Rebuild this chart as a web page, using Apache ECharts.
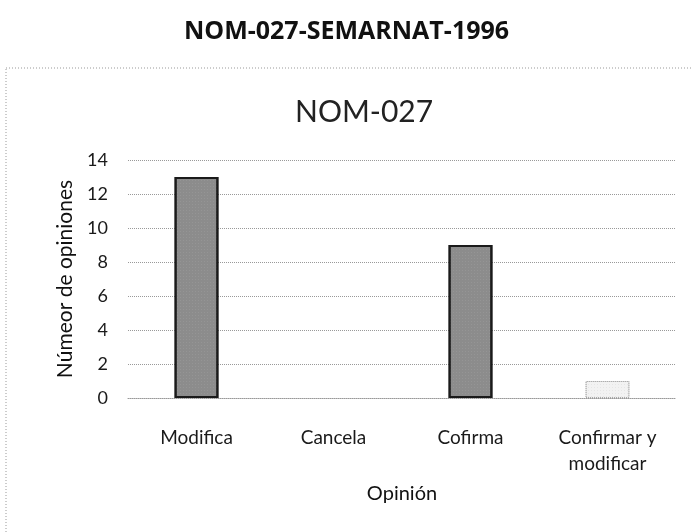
<!DOCTYPE html>
<html>
<head>
<meta charset="utf-8">
<script src="https://cdn.jsdelivr.net/npm/echarts@6/dist/echarts.min.js"></script>
<style>
  html, body { margin: 0; padding: 0; background: #fff; }
  #chart { width: 693px; height: 532px; }
</style>
</head>
<body>
<div id="chart"></div>
<script>
// datos de la gráfica
const categorias = ['Modifica', 'Cancela', 'Cofirma', 'Confirmar y\nmodificar']
const opiniones = [13, 0, 9, 1]
const yTicks = { min: 0, max: 14, interval: 2 }

const chart = echarts.init(document.getElementById('chart'))

const punteado = (c) => ({
  symbol: 'rect',
  symbolSize: 0.5,
  dashArrayX: [1, 2],
  dashArrayY: [1, 2],
  color: c
})

const estiloTenue = {
  color: '#f2f2f2',
  borderColor: '#aaa',
  borderType: 'dotted',
  borderWidth: 1,
  decal: punteado('rgba(120,120,120,0.4)')
}

const option = {
  backgroundColor: '#fff',
  animation: false,
  title: [
    {
      text: 'NOM-027-SEMARNAT-1996',
      left: 'center',
      top: 14,
      textStyle: { fontFamily: 'Open Sans', fontWeight: 'bold', fontSize: 25, color: '#111' }
    },
    {
      text: 'NOM-027',
      left: 290,
      top: 92,
      textStyle: { fontFamily: 'Lato', fontWeight: 'normal', fontSize: 30, color: '#222' }
    }
  ],
  graphic: [
    {
      type: 'rect',
      shape: { x: 6, y: 68, width: 700, height: 480 },
      style: { fill: 'none', stroke: '#999', lineWidth: 1, lineDash: [1, 2] },
      silent: true
    }
  ],
  grid: { left: 128, right: 17, top: 160, bottom: 134 },
  xAxis: {
    type: 'category',
    data: categorias,
    axisTick: { show: false },
    axisLine: { lineStyle: { color: '#999', type: 'dotted' } },
    axisLabel: { fontFamily: 'Lato', fontSize: 19, color: '#1a1a1a', margin: 27, lineHeight: 26 },
    name: 'Opinión',
    nameLocation: 'middle',
    nameGap: 86,
    nameTextStyle: { fontFamily: 'Lato', fontSize: 20, color: '#111' }
  },
  yAxis: {
    type: 'value',
    min: yTicks.min,
    max: yTicks.max,
    interval: yTicks.interval,
    axisLine: { show: false },
    axisTick: { show: false },
    axisLabel: { fontFamily: 'Lato', fontSize: 18, color: '#1a1a1a', margin: 20 },
    splitLine: { lineStyle: { color: '#999', type: 'dotted' } },
    name: 'Númeor de opiniones',
    nameLocation: 'middle',
    nameGap: 48,
    nameRotate: 90,
    nameTextStyle: { fontFamily: 'Lato', fontSize: 21, color: '#111' }
  },
  series: [
    {
      type: 'bar',
      barWidth: '32%',
      data: opiniones.map((v, i) => {
        if (v === 0) return { value: v, itemStyle: { borderWidth: 0, color: 'rgba(0,0,0,0)' } }
        if (i === 3) return { value: v, itemStyle: estiloTenue }
        return v
      }),
      itemStyle: {
        color: '#8c8c8c',
        borderColor: '#1a1a1a',
        borderWidth: 2,
        decal: punteado('rgba(255,255,255,0.35)')
      }
    }
  ]
}

chart.setOption(option)
window.addEventListener('resize', () => chart.resize())
</script>
</body>
</html>
